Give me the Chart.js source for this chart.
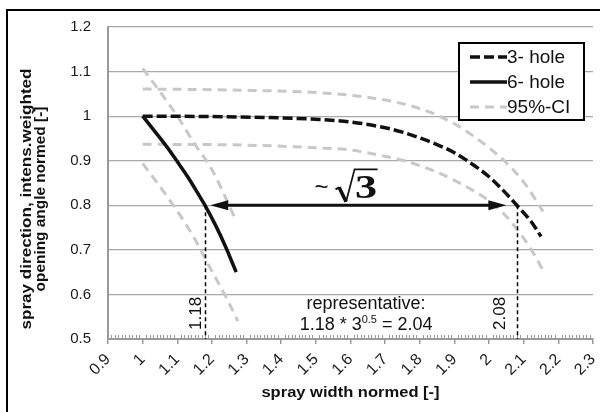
<!DOCTYPE html>
<html>
<head>
<meta charset="utf-8">
<script src="https://cdn.jsdelivr.net/npm/chart.js@4.4.1/dist/chart.umd.min.js"></script>
<style>
  html, body { margin: 0; padding: 0; background: #fff; }
  canvas { display: block; }
</style>
</head>
<body>
<canvas id="chart" width="600" height="412"></canvas>
<script>
// Normalised spray width (x) vs. normalised opening angle (y)

// 3-hole nozzle, mean curve
const hole3X = [1.00, 1.20, 1.40, 1.50, 1.60, 1.70, 1.75, 1.80, 1.85, 1.90, 1.95, 2.00, 2.04, 2.08, 2.12, 2.15];
const hole3Y = [1.000, 0.999, 0.996, 0.993, 0.987, 0.974, 0.964, 0.951, 0.936, 0.918, 0.893, 0.864, 0.834, 0.800, 0.765, 0.730];

// 3-hole nozzle, 95% confidence band
const hole3UpperX = [1.00, 1.30, 1.50, 1.60, 1.70, 1.75, 1.80, 1.85, 1.90, 1.95, 2.00, 2.05, 2.10, 2.156];
const hole3UpperY = [1.061, 1.058, 1.053, 1.047, 1.036, 1.028, 1.017, 1.002, 0.983, 0.958, 0.929, 0.895, 0.852, 0.786];
const hole3LowerX = [1.00, 1.30, 1.50, 1.60, 1.70, 1.75, 1.80, 1.85, 1.90, 1.95, 2.00, 2.05, 2.10, 2.13, 2.16];
const hole3LowerY = [0.937, 0.935, 0.929, 0.924, 0.910, 0.901, 0.889, 0.874, 0.856, 0.835, 0.810, 0.775, 0.726, 0.690, 0.648];

// 6-hole nozzle, mean curve
const hole6X = [1.00, 1.035, 1.07, 1.10, 1.13, 1.16, 1.18, 1.21, 1.24, 1.27];
const hole6Y = [1.000, 0.966, 0.931, 0.898, 0.864, 0.826, 0.800, 0.756, 0.706, 0.650];

// 6-hole nozzle, 95% confidence band
const hole6UpperX = [1.00, 1.05, 1.10, 1.15, 1.20, 1.27];
const hole6UpperY = [1.107, 1.055, 1.000, 0.938, 0.880, 0.765];
const hole6LowerX = [1.00, 1.05, 1.10, 1.15, 1.20, 1.24, 1.275];
const hole6LowerY = [0.894, 0.842, 0.787, 0.725, 0.652, 0.595, 0.540];

// Axis ticks
const xTickLabels = ['0.9', '1', '1.1', '1.2', '1.3', '1.4', '1.5', '1.6', '1.7', '1.8', '1.9', '2', '2.1', '2.2', '2.3'];
const yTickLabels = ['0.5', '0.6', '0.7', '0.8', '0.9', '1', '1.1', '1.2'];

// Series names
const seriesNames = ['3- hole', '6- hole', '95%-CI'];

// Reference level and the widths where each nozzle reaches it
const refAngle = 0.8;
const refWidths = [1.18, 2.08];
const refLabels = ['1.18', '2.08'];

// Width-ratio arrow and notes
const arrowFrom = 1.195;
const arrowTo = 2.05;
const ratioSymbol = ['~', '3'];
const noteLines = ['representative:', '1.18 * 3', '0.5', ' = 2.04'];

// Axis titles
const xTitle = 'spray width normed [-]';
const yTitle = ['spray direction, intens.weighted', 'opening angle normed [-]'];

const FONT = '"Liberation Sans", Arial, sans-serif';
const SERIF = '"Liberation Serif", "Times New Roman", serif';
const CI_GREY = '#c8c8c8';
const INK = '#111111';
const AXIS_GREY = '#9a9a9a';

const toPoints = (xs, ys) => xs.map((x, i) => ({ x, y: ys[i] }));

Chart.defaults.font.family = FONT;
Chart.defaults.color = '#1a1a1a';

const lineStyle = { showLine: true, pointRadius: 0, pointHoverRadius: 0, fill: false, cubicInterpolationMode: 'monotone' };

const datasets = [
  { ...lineStyle, label: seriesNames[1], data: toPoints(hole6X, hole6Y), borderColor: INK, borderWidth: 3.5 },
  { ...lineStyle, label: seriesNames[0], data: toPoints(hole3X, hole3Y), borderColor: INK, borderWidth: 3.5, borderDash: [10, 4] },
  { ...lineStyle, label: seriesNames[2], data: toPoints(hole3UpperX, hole3UpperY), borderColor: CI_GREY, borderWidth: 3, borderDash: [9, 6] },
  { ...lineStyle, label: seriesNames[2], data: toPoints(hole3LowerX, hole3LowerY), borderColor: CI_GREY, borderWidth: 3, borderDash: [9, 6] },
  { ...lineStyle, label: seriesNames[2], data: toPoints(hole6UpperX, hole6UpperY), borderColor: CI_GREY, borderWidth: 3, borderDash: [9, 6] },
  { ...lineStyle, label: seriesNames[2], data: toPoints(hole6LowerX, hole6LowerY), borderColor: CI_GREY, borderWidth: 3, borderDash: [9, 6] }
];

// Draws text stretched along its reading direction
function drawScaledText(ctx, text, x, y, sx, rot, align) {
  ctx.save();
  ctx.translate(x, y);
  if (rot) ctx.rotate(rot);
  ctx.scale(sx, 1);
  ctx.textAlign = align || 'center';
  ctx.fillText(text, 0, 0);
  ctx.restore();
}

const decorations = {
  id: 'decorations',
  beforeDatasetsDraw(chart) {
    const { ctx, chartArea: a, scales: { x } } = chart;
    // minor ticks along the x axis
    ctx.save();
    ctx.strokeStyle = AXIS_GREY;
    ctx.lineWidth = 1;
    const steps = Math.round((x.max - x.min) / 0.01);
    for (let i = 1; i < steps; i++) {
      if (i % 10 === 0) continue;
      const px = Math.round(x.getPixelForValue(x.min + i * 0.01)) + 0.5;
      ctx.beginPath();
      ctx.moveTo(px, a.bottom);
      ctx.lineTo(px, a.bottom - 4);
      ctx.stroke();
    }
    ctx.restore();
  },
  afterDatasetsDraw(chart) {
    const { ctx, chartArea: a, scales: { x, y } } = chart;
    ctx.save();

    // guides from the reference level down to the axis
    const yRef = y.getPixelForValue(refAngle);
    const yBase = y.getPixelForValue(y.min);
    ctx.strokeStyle = '#000';
    ctx.lineWidth = 1.5;
    ctx.setLineDash([4, 3]);
    refWidths.forEach(w => {
      const px = Math.round(x.getPixelForValue(w)) + 0.5;
      ctx.beginPath();
      ctx.moveTo(px, yRef);
      ctx.lineTo(px, yBase);
      ctx.stroke();
    });
    ctx.setLineDash([]);

    // rotated width labels beside the guides
    ctx.fillStyle = '#111';
    ctx.font = '17px ' + FONT;
    ctx.textBaseline = 'alphabetic';
    const gaps = [4, 12];
    refWidths.forEach((w, i) => {
      const px = x.getPixelForValue(w);
      ctx.save();
      ctx.translate(px - gaps[i], a.bottom - 9);
      ctx.rotate(-Math.PI / 2);
      ctx.textAlign = 'left';
      ctx.fillText(refLabels[i], 0, 0);
      ctx.restore();
    });

    // double-headed arrow between the two widths
    const xa = x.getPixelForValue(arrowFrom);
    const xb = x.getPixelForValue(arrowTo);
    ctx.strokeStyle = INK;
    ctx.fillStyle = INK;
    ctx.lineWidth = 3;
    ctx.beginPath();
    ctx.moveTo(xa + 14, yRef);
    ctx.lineTo(xb - 14, yRef);
    ctx.stroke();
    ctx.beginPath();
    ctx.moveTo(xa, yRef);
    ctx.lineTo(xa + 18, yRef - 5);
    ctx.lineTo(xa + 18, yRef + 5);
    ctx.closePath();
    ctx.fill();
    ctx.beginPath();
    ctx.moveTo(xb, yRef);
    ctx.lineTo(xb - 18, yRef - 5);
    ctx.lineTo(xb - 18, yRef + 5);
    ctx.closePath();
    ctx.fill();

    // "~ sqrt(3)" above the arrow
    const p = x.getPixelForValue(1.58);
    const base = yRef - 7;
    ctx.font = '24px ' + FONT;
    ctx.textAlign = 'center';
    ctx.fillText(ratioSymbol[0], p - 22, base - 3);
    ctx.lineCap = 'butt';
    ctx.lineJoin = 'miter';
    ctx.lineWidth = 2;
    ctx.beginPath();
    ctx.moveTo(p - 8, base - 9);
    ctx.lineTo(p - 4.5, base - 11);
    ctx.stroke();
    ctx.lineWidth = 3.6;
    ctx.beginPath();
    ctx.moveTo(p - 4.5, base - 11);
    ctx.lineTo(p + 2.5, base + 3.5);
    ctx.stroke();
    ctx.lineWidth = 1.7;
    ctx.beginPath();
    ctx.moveTo(p + 2.5, base + 3.5);
    ctx.lineTo(p + 11, base - 29);
    ctx.lineTo(p + 34, base - 29);
    ctx.stroke();
    ctx.font = 'bold 34px ' + SERIF;
    drawScaledText(ctx, ratioSymbol[1], p + 11.5, base, 1.3, 0, 'left');

    // note on the representative ratio
    const cx = x.getPixelForValue(1.645);
    const b1 = y.getPixelForValue(0.567);
    const b2 = b1 + 21;
    ctx.font = '18px ' + FONT;
    ctx.textAlign = 'center';
    ctx.fillText(noteLines[0], cx, b1);
    ctx.textAlign = 'left';
    const w1 = ctx.measureText(noteLines[1]).width;
    const w3 = ctx.measureText(noteLines[3]).width;
    ctx.font = '11px ' + FONT;
    const w2 = ctx.measureText(noteLines[2]).width;
    let tx = cx - (w1 + w2 + w3) / 2;
    ctx.font = '18px ' + FONT;
    ctx.fillText(noteLines[1], tx, b2);
    tx += w1;
    ctx.font = '11px ' + FONT;
    ctx.fillText(noteLines[2], tx, b2 - 7);
    tx += w2;
    ctx.font = '18px ' + FONT;
    ctx.fillText(noteLines[3], tx, b2);

    // legend box inside the plot
    const lx = a.right - 134, ly = a.top + 16, lw = 125, lh = 77;
    ctx.fillStyle = '#fff';
    ctx.fillRect(lx, ly, lw, lh);
    ctx.strokeStyle = '#000';
    ctx.lineWidth = 2;
    ctx.strokeRect(lx, ly, lw, lh);
    const entries = [
      { name: seriesNames[0], color: INK, width: 3.5, dash: [10, 4] },
      { name: seriesNames[1], color: INK, width: 3.5, dash: [] },
      { name: seriesNames[2], color: CI_GREY, width: 3, dash: [9, 6] }
    ];
    ctx.font = '19px ' + FONT;
    ctx.textBaseline = 'middle';
    ctx.textAlign = 'left';
    entries.forEach((e, i) => {
      const ey = ly + 14 + i * 25;
      ctx.strokeStyle = e.color;
      ctx.lineWidth = e.width;
      ctx.setLineDash(e.dash);
      ctx.beginPath();
      ctx.moveTo(lx + 11, ey);
      ctx.lineTo(lx + 48, ey);
      ctx.stroke();
      ctx.setLineDash([]);
      ctx.fillStyle = '#111';
      ctx.fillText(e.name, lx + 48, ey + 1);
    });
    ctx.restore();
  },
  afterDraw(chart) {
    const { ctx, chartArea: a } = chart;
    ctx.save();
    ctx.fillStyle = '#111';
    ctx.textBaseline = 'alphabetic';
    // x axis title
    ctx.font = 'bold 14.5px ' + FONT;
    drawScaledText(ctx, xTitle, (a.left + a.right) / 2, 397, 1.14, 0, 'center');
    // y axis title, two lines
    ctx.font = 'bold 14px ' + FONT;
    const cy = 199;
    drawScaledText(ctx, yTitle[0], 31, cy, 1.22, -Math.PI / 2, 'center');
    drawScaledText(ctx, yTitle[1], 45, cy, 1.1, -Math.PI / 2, 'center');
    // outer frame
    ctx.strokeStyle = '#000';
    ctx.lineWidth = 2;
    ctx.beginPath();
    ctx.moveTo(7, chart.height);
    ctx.lineTo(7, 10);
    ctx.lineTo(chart.width, 10);
    ctx.stroke();
    ctx.restore();
  }
};

new Chart(document.getElementById('chart'), {
  type: 'scatter',
  data: { datasets },
  options: {
    responsive: false,
    animation: false,
    events: [],
    layout: { padding: { left: 0, right: 7, top: 27, bottom: 0 } },
    plugins: { legend: { display: false }, tooltip: { enabled: false } },
    scales: {
      x: {
        type: 'linear',
        min: 0.9,
        max: 2.3,
        afterFit: s => { s.height = 73; s.paddingLeft = 0; s.paddingRight = 0; },
        afterBuildTicks: s => {
          s.ticks = xTickLabels.map(t => ({ value: parseFloat(t) }));
        },
        ticks: {
          callback: (v, i) => xTickLabels[i],
          minRotation: 45,
          maxRotation: 45,
          autoSkip: false,
          padding: 6,
          color: '#1a1a1a',
          font: { size: 16 }
        },
        grid: { display: true, drawOnChartArea: false, drawTicks: true, tickLength: 5, color: AXIS_GREY, lineWidth: 1.5 },
        border: { display: true, color: AXIS_GREY, width: 2 },
        title: { display: false }
      },
      y: {
        type: 'linear',
        min: 0.5,
        max: 1.2,
        afterFit: s => { s.width = 108; s.paddingTop = 0; s.paddingBottom = 0; },
        afterBuildTicks: s => {
          s.ticks = yTickLabels.map(t => ({ value: parseFloat(t) }));
        },
        ticks: {
          callback: (v, i) => yTickLabels[i],
          padding: 17,
          color: '#1a1a1a',
          font: { size: 15 }
        },
        grid: { display: true, drawTicks: false, color: '#a8a8a8', lineWidth: 1.2 },
        border: { display: true, color: AXIS_GREY, width: 2 },
        title: { display: false }
      }
    }
  },
  plugins: [decorations]
});
</script>
</body>
</html>
